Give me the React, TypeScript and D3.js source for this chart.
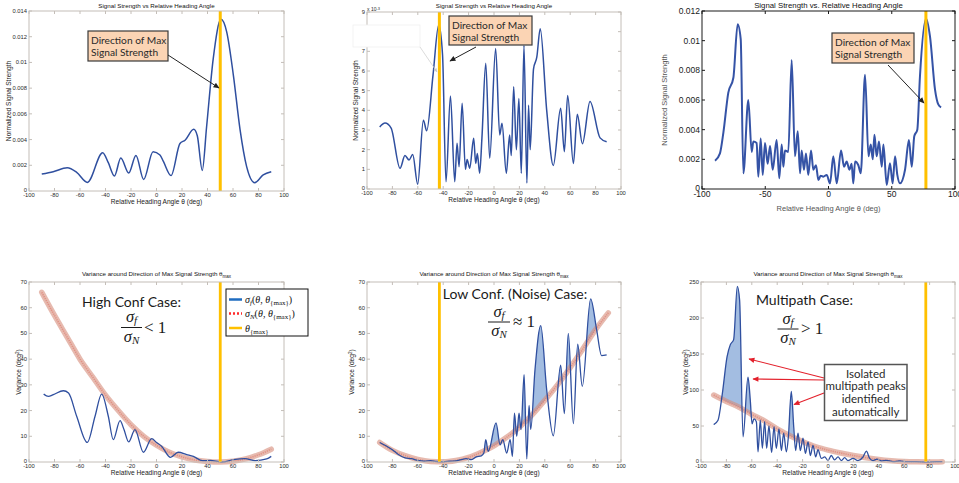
import * as d3 from "d3";
import React from "react";

type Pt = [number, number];
type Box = { l: number; r: number; t: number; b: number };

const W = 959;
const H = 483;
const AXIS_FONT = "'Liberation Sans', Arial, Helvetica, sans-serif";
const NOTE_FONT = "Lato, 'Open Sans', sans-serif";
const MATH_FONT = "'Liberation Serif', 'DejaVu Serif', serif";

// tick labels
const xTicks20 = [-100, -80, -60, -40, -20, 0, 20, 40, 60, 80, 100];
const xTicks50 = [-100, -50, 0, 50, 100];
const yTicksP1 = [0, 2, 4, 6, 8, 10, 12, 14]; // x 1e-3
const yTicksP2 = [0, 1, 2, 3, 4, 5, 6, 7, 8, 9]; // x 1e-3
const yTicksP3 = [0, 2, 4, 6, 8, 10, 12]; // x 1e-3
const yTicksVar = [0, 10, 20, 30, 40, 50, 60, 70];
const yTicksP6 = [0, 50, 100, 150, 200, 250];

// direction of max signal strength (deg)
const thetaMaxHigh = 50;
const thetaMaxNoise = -43;
const thetaMaxMulti = 77;

// normalized signal strength, units of 1e-3
const signalHigh: Pt[] = [
  [-90, 1.32], [-81, 1.5], [-70, 1.8], [-62.6, 1.45], [-54.2, 0.67], [-42.2, 2.98],
  [-37.8, 2.2], [-33, 1.17], [-28, 2.57], [-21.8, 1.4], [-16.1, 2.77], [-10.1, 0.9],
  [-2.7, 3.06], [2.7, 2.8], [5.4, 2.3], [11.4, 1.2], [18.4, 3.7], [22.4, 3.95],
  [29.2, 4.8], [32, 4.3], [35.9, 1.6], [39.3, 5.0], [44.5, 10.3], [50.6, 13.35],
  [55, 12.4], [60.3, 9], [65.5, 4.8], [70.7, 1.9], [77, 0.65], [83.7, 1.25], [90, 1.5],
];

const signalNoise: Pt[] = [
  [-90, 3.15], [-85.8, 3.35], [-81, 3.1], [-74, 1.05], [-70.1, 1.7], [-66.9, 1.48],
  [-64, 1.75], [-60.1, 0.24], [-55.6, 3.5], [-53, 2.96], [-48, 5.8], [-43.5, 8.35],
  [-40.5, 6.8], [-37.8, 0.37], [-34.3, 4.73], [-30.9, 0.37], [-29.1, 2.32], [-27.5, 1.13],
  [-25.1, 4.36], [-22.5, 1.0], [-21.2, 1.5], [-19.1, 1.05], [-16, 2.58], [-14.4, 1.3],
  [-13.1, 1.8], [-11.3, 0.8], [-9.5, 2.6], [-6.5, 6.39], [-3.4, 1.56], [1.3, 7.15],
  [4.5, 2.75], [6.3, 3.34], [9.7, 0.8], [12.3, 2.75], [13.6, 1.7], [15.5, 5.2],
  [17.6, 2.0], [19.6, 4.6], [21.5, 0.8], [23.6, 7.3], [25.9, 0.3], [27.2, 4.26],
  [28.5, 2.0], [31.1, 6.1], [33.7, 6.7], [36.4, 8.15], [41.5, 4.0], [46.7, 1.2],
  [52.5, 4.1], [55.4, 1.9], [58, 4.75], [62.5, 1.3], [65.6, 3.8], [69.6, 2.3],
  [75.6, 4.45], [83.5, 2.6], [88.7, 2.4],
];

const signalMulti: Pt[] = [
  [-89.7, 1.9], [-85.8, 2.4], [-83.1, 3.8], [-79.2, 6.5], [-75.2, 7.5], [-71.8, 11.1],
  [-69.4, 10.1], [-67.3, 1.06], [-63.4, 6.0], [-60.7, 2.5], [-59.4, 3.2], [-56.8, 3.1],
  [-55.5, 0.83], [-53.6, 3.4], [-52, 0.95], [-50.2, 3.1], [-48.1, 1.7], [-46.2, 2.9],
  [-44.1, 1.3], [-41, 3.3], [-38.9, 0.72], [-37, 3.0], [-35.7, 1.5], [-34.4, 2.6],
  [-31.8, 2.5], [-29.1, 8.7], [-26.5, 2.2], [-24.3, 3.9], [-22.5, 1.06], [-21.2, 2.6],
  [-19.4, 1.3], [-17.8, 2.4], [-16, 0.95], [-13.8, 2.6], [-12, 1.3], [-9.9, 1.6],
  [-8, 0.6], [-6.2, 0.9], [-4.1, 0.83], [-1.4, 0.95], [1.2, 0.38], [3.8, 2.2],
  [6.5, 0.38], [9.9, 2.6], [12.3, 1.5], [14.4, 1.85], [16.5, 1.3], [18.3, 1.7],
  [19.6, 0.38], [21, 1.85], [23.6, 1.6], [25.5, 1.06], [28.9, 7.7], [31.6, 2.2],
  [33.4, 3.0], [35, 2.0], [36.3, 3.65], [38.1, 2.2], [39.9, 3.2], [42.1, 1.5],
  [43.4, 3.0], [46, 0.27], [48.6, 1.74], [50.7, 0.38], [52.6, 2.2], [54.4, 0.95],
  [56.5, 0.38], [60.5, 1.3], [63.6, 3.3], [65.8, 1.5], [67.8, 3.55], [70.2, 4.0],
  [72.3, 7.6], [77.1, 11.5], [80.2, 10.3], [84.2, 6.7], [86.8, 5.7], [89, 5.5],
];

// variance sigma_f (deg^2)
const sigmaFHigh: Pt[] = [
  [-88.5, 26.4], [-84.8, 25.5], [-80.9, 26.2], [-73, 27.7], [-69, 26.8], [-62.6, 17.8],
  [-54.3, 7.6], [-48.2, 17.8], [-43, 26.4], [-37.8, 17.8], [-33.9, 8.7], [-28.6, 16.1],
  [-25.5, 12.6], [-21.8, 7.8], [-16.9, 12.6], [-10.3, 3.8], [-3.8, 9.1], [0, 7.6],
  [4, 6.1], [11, 1.8], [17, 3.8], [23.7, 2.9], [28.9, 2.2], [36, 0.5], [42, 0.6],
  [51, 0], [60.3, 0.9], [69.4, 1.3], [77.3, 0.5], [86.4, 1.2], [90, 2.2],
];

const sigmaFNoise: Pt[] = [
  [-90, 7.6], [-85, 6.3], [-80, 4.8], [-75, 2.8], [-70, 1.6], [-65, 1.3], [-60, 0.6],
  [-55, 0.3], [-50, 0.5], [-45, 0.2], [-40, 0.1], [-35, 0.3], [-30, 0.4], [-26, 0.9],
  [-22, 1.3], [-18, 0.9], [-14, 2.0], [-10, 2.4], [-8, 3.5], [-6.5, 8.7], [-4.5, 4.1],
  [1.6, 15.2], [4.8, 6.7], [6.9, 8.7], [10, 3.5], [12.7, 8.7], [14.5, 2.2], [16.1, 19],
  [17.9, 10], [19.7, 19], [21.3, 12.6], [23.7, 34], [25.8, 1.2], [27.6, 22], [28.9, 12.6],
  [32.3, 36], [36.8, 53], [41.5, 28], [46.7, 10.2], [52.5, 37.7], [55.4, 18.8],
  [58.5, 50], [62.5, 14.9], [65.9, 45.8], [69.5, 29.4], [76.1, 63.4], [80.8, 51.5],
  [84.7, 41.4], [88.7, 41.7],
];

const sigmaFMulti: Pt[] = [
  [-90, 52], [-86.6, 58], [-83.2, 95], [-79.5, 146], [-76.9, 163], [-74.3, 170],
  [-71.4, 244], [-69.6, 225], [-66.9, 35], [-63, 118], [-61.2, 86], [-59.8, 53],
  [-58.3, 60], [-56.4, 56], [-55.1, 14], [-53.3, 58], [-51.7, 19], [-49.9, 56],
  [-48.3, 19], [-46.5, 50], [-44.4, 13], [-42.5, 49], [-40.7, 19], [-38.6, 46],
  [-36.7, 16], [-34.9, 40], [-32.8, 14], [-31.2, 35], [-28.9, 98], [-27, 49],
  [-25.5, 16], [-23.6, 40], [-21.8, 16], [-19.7, 33], [-17.8, 12], [-15.7, 28],
  [-13.9, 9], [-11.8, 23], [-9.7, 7], [-7.9, 17], [-5.2, 5], [-2.6, 7], [0, 2],
  [2.6, 9], [5.2, 3], [7.9, 7], [10.5, 2], [13.1, 6], [15.7, 2], [19.7, 5], [23.6, 2],
  [27.6, 7], [30.2, 15], [32.8, 5], [35.4, 2], [38.6, 4], [42, 1.4], [45.9, 2.3],
  [51.2, 0.5], [56.4, 1.4], [61.7, 0.5], [69.6, 0.5], [77.4, 0], [85.3, 0.5], [90, 0.5],
];

// variance sigma_N (deg^2)
const sigmaNHigh: Pt[] = [
  [-90, 66], [-80, 57], [-70, 48.5], [-60, 40], [-50, 33], [-40, 26], [-30, 20],
  [-20, 14.5], [-10, 10], [0, 6.5], [10, 3.8], [20, 2], [30, 0.8], [40, 0.2], [50, 0],
  [60, 0.3], [70, 1.2], [80, 2.8], [90, 5],
];

const sigmaNNoise: Pt[] = [
  [-90, 7.6], [-80, 4.5], [-70, 2.5], [-60, 1], [-50, 0.2], [-40, 0.05], [-30, 0.6],
  [-20, 1.8], [-10, 3.8], [0, 6.3], [10, 9.6], [20, 13.5], [30, 18.3], [40, 24],
  [50, 30], [60, 36.7], [70, 44], [80, 51.5], [90, 58],
];

const sigmaNMulti: Pt[] = [
  [-90, 93], [-80, 84], [-70, 76], [-60, 66], [-50, 57], [-40, 46], [-30, 36.5],
  [-20, 28.5], [-10, 21.5], [0, 16.5], [10, 12.5], [20, 9], [30, 6], [40, 3.5],
  [50, 1.8], [60, 0.7], [70, 0.2], [80, 0], [90, 0.4],
];

// peaks flagged as multipath (deg ranges)
const multipathRanges: [number, number][] = [[-84, -66.5], [-64.5, -59.3], [-30.6, -27]];

const BLUE = "#2f4f9f";
const ORANGE = "#ffc000";

type Scale = d3.ScaleLinear<number, number>;

const smoothLine = (x: Scale, y: Scale, pts: Pt[]) =>
  d3.line<Pt>().x((d) => x(d[0])).y((d) => y(d[1])).curve(d3.curveMonotoneX)(pts) || "";

const fmtMilli = (v: number) => (v === 0 ? "0" : String(+(v / 1000).toFixed(3)));

interface PanelProps {
  box: Box;
  yDomain: [number, number];
  xTicks: number[];
  yTicks: number[];
  yFmt?: (v: number) => string;
  frame: string;
  tickColor: string;
  labelColor: string;
  tickFont: number;
  titleFont: number;
  labelFont: number;
  title: React.ReactNode;
  titleY: number;
  xLabelY: number;
  xTickY: number;
  yLabel: React.ReactNode;
  yLabelX: number;
  children: (x: Scale, y: Scale) => React.ReactNode;
}

function Panel(p: PanelProps) {
  const { box } = p;
  const x = d3.scaleLinear().domain([-100, 100]).range([box.l, box.r]);
  const y = d3.scaleLinear().domain(p.yDomain).range([box.b, box.t]);
  const fmt = p.yFmt || ((v: number) => String(v));
  const cx = (box.l + box.r) / 2;
  const cy = (box.t + box.b) / 2;
  const tl = 3;
  return (
    <g>
      <rect x={box.l} y={box.t} width={box.r - box.l} height={box.b - box.t} fill="#fff" />
      {p.children(x, y)}
      <rect x={box.l} y={box.t} width={box.r - box.l} height={box.b - box.t} fill="none" stroke={p.frame} strokeWidth={1} />
      {p.xTicks.map((t) => (
        <g key={"x" + t}>
          <line x1={x(t)} x2={x(t)} y1={box.b} y2={box.b - tl} stroke={p.frame} />
          <line x1={x(t)} x2={x(t)} y1={box.t} y2={box.t + tl} stroke={p.frame} />
          <text x={x(t)} y={p.xTickY} textAnchor="middle" fontSize={p.tickFont} fill={p.tickColor}>
            {t}
          </text>
        </g>
      ))}
      {p.yTicks.map((t) => (
        <g key={"y" + t}>
          <line x1={box.l} x2={box.l + tl} y1={y(t)} y2={y(t)} stroke={p.frame} />
          <line x1={box.r} x2={box.r - tl} y1={y(t)} y2={y(t)} stroke={p.frame} />
          <text x={box.l - 2} y={y(t) + p.tickFont * 0.35 - (t === 0 ? 1 : 0)} textAnchor="end" fontSize={p.tickFont} fill={p.tickColor}>
            {fmt(t)}
          </text>
        </g>
      ))}
      <text x={cx} y={p.titleY} textAnchor="middle" fontSize={p.titleFont} fill="#111">
        {p.title}
      </text>
      <text x={cx} y={p.xLabelY} textAnchor="middle" fontSize={p.labelFont} fill={p.labelColor}>
        Relative Heading Angle θ (deg)
      </text>
      <text
        transform={`translate(${p.yLabelX},${cy}) rotate(-90)`}
        textAnchor="middle"
        fontSize={p.labelFont}
        fill={p.labelColor}
      >
        {p.yLabel}
      </text>
    </g>
  );
}

function NoteBox({ x, y, w, h, lines, arrow }: { x: number; y: number; w: number; h: number; lines: string[]; arrow: [number, number, number, number] }) {
  return (
    <g>
      <rect x={x} y={y} width={w} height={h} fill="#fbd4b4" stroke="#3a3a3a" strokeWidth={1.2} />
      {lines.map((s, i) => (
        <text key={s} x={x + 3} y={y + 12.5 + i * 12.8} fontFamily={NOTE_FONT} fontSize={10.2} fill="#2a2a2a">
          {s}
        </text>
      ))}
      <line x1={arrow[0]} y1={arrow[1]} x2={arrow[2]} y2={arrow[3]} stroke="#222" strokeWidth={1} markerEnd="url(#headBlack)" />
    </g>
  );
}

function Fraction({ cx, barY, barW, rel, relX, relY }: { cx: number; barY: number; barW: number; rel: string; relX: number; relY: number }) {
  return (
    <g fontFamily={MATH_FONT} fill="#1a1a1a">
      <text x={cx} y={barY - 5.5} textAnchor="middle" fontSize={16.5} fontStyle="italic">
        σ<tspan fontSize={11} dy={2}>f</tspan>
      </text>
      <line x1={cx - barW / 2} x2={cx + barW / 2} y1={barY} y2={barY} stroke="#1a1a1a" strokeWidth={1} />
      <text x={cx} y={barY + 14} textAnchor="middle" fontSize={16.5} fontStyle="italic">
        σ<tspan fontSize={11} dy={2}>N</tspan>
      </text>
      <text x={relX} y={relY} fontSize={17}>
        {rel}
      </text>
    </g>
  );
}

function VarianceCurves({ x, y, box, blue, red, theta, id, ranges }: { x: Scale; y: Scale; box: Box; blue: Pt[]; red: Pt[]; theta: number; id: string; ranges?: [number, number][] }) {
  const redAbove = d3
    .area<Pt>()
    .x((d) => x(d[0]))
    .y0(box.t)
    .y1((d) => y(d[1]))
    .curve(d3.curveMonotoneX)(red) || "";
  const blueArea = d3
    .area<Pt>()
    .x((d) => x(d[0]))
    .y0(y(0))
    .y1((d) => y(d[1]))
    .curve(d3.curveMonotoneX)(blue) || "";
  const shade = id !== "high";
  return (
    <g>
      <defs>
        <clipPath id={"above-" + id}>
          <path d={redAbove} />
        </clipPath>
        {ranges && (
          <clipPath id={"ranges-" + id}>
            {ranges.map((r) => (
              <rect key={r[0]} x={x(r[0])} y={box.t} width={x(r[1]) - x(r[0])} height={box.b - box.t} />
            ))}
          </clipPath>
        )}
      </defs>
      {shade && (
        <g clipPath={ranges ? `url(#ranges-${id})` : undefined}>
          <path d={blueArea} fill="#a3bde1" clipPath={`url(#above-${id})`} />
        </g>
      )}
      <path d={smoothLine(x, y, red)} fill="none" stroke="rgba(214,140,122,0.6)" strokeWidth={5.5} strokeLinecap="round" />
      <path d={smoothLine(x, y, red)} fill="none" stroke="rgba(222,95,80,0.45)" strokeWidth={1.6} strokeDasharray="1.2,1" />
      <path d={smoothLine(x, y, blue)} fill="none" stroke={BLUE} strokeWidth={1.3} />
      <line x1={x(theta)} x2={x(theta)} y1={box.t} y2={box.b} stroke={ORANGE} strokeWidth={2.8} />
    </g>
  );
}

const varTitle = (
  <>
    Variance around Direction of Max Signal Strength θ
    <tspan fontSize={4.5} dy={2}>max</tspan>
  </>
);

const varLabel = (
  <>
    Variance (deg<tspan fontSize={4.5} dy={-2.5}>2</tspan>
    <tspan dy={2.5}>)</tspan>
  </>
);

const smallAxis = {
  frame: "#c4beb8",
  tickColor: "#2a2a2a",
  labelColor: "#1a1a1a",
  tickFont: 5.8,
  titleFont: 6.2,
  labelFont: 6.6,
};

function LegendLabel({ x, y, sub }: { x: number; y: number; sub: string }) {
  return (
    <text x={x} y={y} fontFamily={MATH_FONT} fontSize={10} fill="#111">
      <tspan fontStyle="italic">σ</tspan>
      <tspan fontStyle="italic" fontSize={7} dy={2}>{sub}</tspan>
      <tspan dy={-2}>(</tspan>
      <tspan fontStyle="italic">θ</tspan>, <tspan fontStyle="italic">θ</tspan>
      <tspan fontSize={7} dy={2}>{"{max}"}</tspan>
      <tspan dy={-2}>)</tspan>
    </text>
  );
}

export default function App() {
  const b1: Box = { l: 29, r: 284, t: 11, b: 191 };
  const b2: Box = { l: 367, r: 621, t: 12, b: 189 };
  const b3: Box = { l: 702, r: 955, t: 11, b: 189 };
  const b4: Box = { l: 29, r: 284, t: 282, b: 462 };
  const b5: Box = { l: 367, r: 621, t: 282, b: 462 };
  const b6: Box = { l: 701, r: 955, t: 282, b: 462 };

  return (
    <svg width={W} height={H} style={{ position: "absolute", left: 0, top: 0, background: "#fff" }} fontFamily={AXIS_FONT}>
      <defs>
        <marker id="headBlack" viewBox="0 0 10 10" refX="9" refY="5" markerWidth="7" markerHeight="6" markerUnits="userSpaceOnUse" orient="auto">
          <path d="M0,0.5 L10,5 L0,9.5 z" fill="#222" />
        </marker>
        <marker id="headRed" viewBox="0 0 10 10" refX="9" refY="5" markerWidth="7" markerHeight="6" markerUnits="userSpaceOnUse" orient="auto">
          <path d="M0,0.5 L10,5 L0,9.5 z" fill="#e3202b" />
        </marker>
        <marker id="headGray" viewBox="0 0 10 10" refX="9" refY="5" markerWidth="5" markerHeight="4" markerUnits="userSpaceOnUse" orient="auto">
          <path d="M0,0.5 L10,5 L0,9.5 z" fill="#c8c8c8" />
        </marker>
      </defs>

      {/* top left: high confidence signal */}
      <Panel box={b1} yDomain={[0, 14]} xTicks={xTicks20} yTicks={yTicksP1} yFmt={fmtMilli} {...smallAxis}
        title="Signal Strength vs Relative Heading Angle" titleY={7.5} xLabelY={204} xTickY={197}
        yLabel="Normalized Signal Strength" yLabelX={11}>
        {(x, y) => (
          <>
            <path d={smoothLine(x, y, signalHigh)} fill="none" stroke={BLUE} strokeWidth={1.5} />
            <line x1={x(thetaMaxHigh)} x2={x(thetaMaxHigh)} y1={b1.t} y2={b1.b} stroke={ORANGE} strokeWidth={3} />
          </>
        )}
      </Panel>
      <NoteBox x={88} y={31} w={80} h={30} lines={["Direction of Max", "Signal Strength"]} arrow={[168, 55, 219, 88]} />

      {/* top middle: noisy signal */}
      <Panel box={b2} yDomain={[0, 9]} xTicks={xTicks20} yTicks={yTicksP2} {...smallAxis}
        title="Signal Strength vs Relative Heading Angle" titleY={8} xLabelY={202} xTickY={195}
        yLabel="Normalized Signal Strength" yLabelX={358}>
        {(x, y) => (
          <>
            <path d={smoothLine(x, y, signalNoise)} fill="none" stroke={BLUE} strokeWidth={1.5} />
            <line x1={x(thetaMaxNoise)} x2={x(thetaMaxNoise)} y1={b2.t} y2={b2.b} stroke={ORANGE} strokeWidth={3} />
          </>
        )}
      </Panel>
      <text x={367} y={11} fontSize={5} fill="#2a2a2a">
        x 10<tspan fontSize={4} dy={-1.5}>-3</tspan>
      </text>
      <rect x={353} y={25} width={67} height={22} fill="#fff" stroke="#efefef" strokeWidth={0.8} />
      <line x1={420} y1={47} x2={437} y2={72} stroke="#d2d2d2" strokeWidth={0.8} markerEnd="url(#headGray)" />
      <NoteBox x={449} y={16} w={83} h={29} lines={["Direction of Max", "Signal Strength"]} arrow={[476, 47, 450, 61]} />

      {/* top right: multipath signal */}
      <Panel box={b3} yDomain={[0, 12]} xTicks={xTicks50} yTicks={yTicksP3} yFmt={fmtMilli}
        frame="#1a1a1a" tickColor="#1a1a1a" labelColor="#555" tickFont={8.5} titleFont={7.8} labelFont={7.5}
        title="Signal Strength vs. Relative Heading Angle" titleY={7.5} xLabelY={210.5} xTickY={197}
        yLabel="Normalized Signal Strength" yLabelX={667}>
        {(x, y) => (
          <>
            <path d={smoothLine(x, y, signalMulti)} fill="none" stroke="#3553a6" strokeWidth={2} />
            <line x1={x(thetaMaxMulti)} x2={x(thetaMaxMulti)} y1={b3.t} y2={b3.b} stroke={ORANGE} strokeWidth={3} />
          </>
        )}
      </Panel>
      <NoteBox x={832} y={33} w={82} h={30} lines={["Direction of Max", "Signal Strength"]} arrow={[888, 65, 924, 103]} />

      {/* bottom left: high confidence variance */}
      <Panel box={b4} yDomain={[0, 70]} xTicks={xTicks20} yTicks={yTicksVar} {...smallAxis}
        title={varTitle} titleY={275.5} xLabelY={474.5} xTickY={468} yLabel={varLabel} yLabelX={21}>
        {(x, y) => <VarianceCurves x={x} y={y} box={b4} blue={sigmaFHigh} red={sigmaNHigh} theta={thetaMaxHigh} id="high" />}
      </Panel>
      <text x={131.5} y={307} textAnchor="middle" fontFamily={NOTE_FONT} fontSize={14} fill="#1a1a1a">High Conf Case:</text>
      <Fraction cx={131.5} barY={327.5} barW={21} rel="< 1" relX={144} relY={333} />
      <g>
        <rect x={226} y={289} width={82} height={47} fill="#fff" stroke="#111" strokeWidth={1} />
        <line x1={229} x2={242} y1={299.5} y2={299.5} stroke="#1f6cc0" strokeWidth={2.5} />
        <LegendLabel x={245} y={303} sub="f" />
        <line x1={229} x2={242} y1={313.5} y2={313.5} stroke="#ff2a2a" strokeWidth={2.5} strokeDasharray="2,2" />
        <LegendLabel x={245} y={317} sub="N" />
        <line x1={229} x2={242} y1={328} y2={328} stroke={ORANGE} strokeWidth={2.5} />
        <text x={245} y={331.5} fontFamily={MATH_FONT} fontSize={10} fill="#111">
          <tspan fontStyle="italic">θ</tspan>
          <tspan fontSize={7} dy={2}>{"{max}"}</tspan>
        </text>
      </g>

      {/* bottom middle: noise variance */}
      <Panel box={b5} yDomain={[0, 70]} xTicks={xTicks20} yTicks={yTicksVar} {...smallAxis}
        title={varTitle} titleY={275.5} xLabelY={474.5} xTickY={468} yLabel={varLabel} yLabelX={354}>
        {(x, y) => <VarianceCurves x={x} y={y} box={b5} blue={sigmaFNoise} red={sigmaNNoise} theta={thetaMaxNoise} id="noise" />}
      </Panel>
      <text x={515} y={299} textAnchor="middle" fontFamily={NOTE_FONT} fontSize={14} fill="#1a1a1a">Low Conf. (Noise) Case:</text>
      <Fraction cx={499} barY={322} barW={22} rel="≈ 1" relX={513} relY={327} />

      {/* bottom right: multipath variance */}
      <Panel box={b6} yDomain={[0, 250]} xTicks={xTicks20} yTicks={yTicksP6} {...smallAxis}
        title={varTitle} titleY={275.5} xLabelY={474.5} xTickY={468} yLabel={varLabel} yLabelX={688}>
        {(x, y) => (
          <VarianceCurves x={x} y={y} box={b6} blue={sigmaFMulti} red={sigmaNMulti} theta={thetaMaxMulti} id="multi" ranges={multipathRanges} />
        )}
      </Panel>
      <text x={804.5} y={305} textAnchor="middle" fontFamily={NOTE_FONT} fontSize={14} fill="#1a1a1a">Multipath Case:</text>
      <Fraction cx={788} barY={329} barW={21} rel="> 1" relX={801} relY={334} />
      <g>
        <line x1={824} y1={378} x2={749} y2={359} stroke="#e3202b" strokeWidth={1.1} markerEnd="url(#headRed)" />
        <line x1={824} y1={380} x2={753} y2={379} stroke="#e3202b" strokeWidth={1.1} markerEnd="url(#headRed)" />
        <line x1={824} y1={393} x2={794} y2={404.5} stroke="#e3202b" strokeWidth={1.1} markerEnd="url(#headRed)" />
        <rect x={824.5} y={364.5} width={82.5} height={56} fill="#fff" stroke="#555" strokeWidth={1.5} />
        {["Isolated", "multipath peaks", "identified", "automatically"].map((s, i) => (
          <text key={s} x={865.7} y={377.5 + i * 12.7} textAnchor="middle" fontFamily={NOTE_FONT} fontSize={11.5} fill="#2a2a2a">
            {s}
          </text>
        ))}
      </g>
    </svg>
  );
}
